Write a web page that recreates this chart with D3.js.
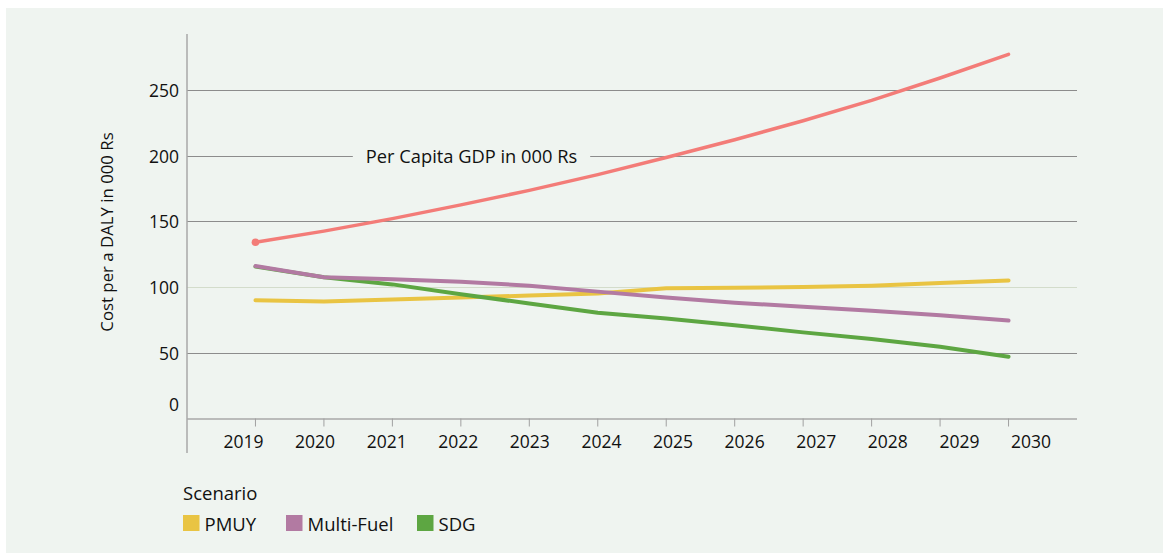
<!DOCTYPE html>
<html>
<head>
<meta charset="utf-8">
<script src="https://cdn.jsdelivr.net/npm/d3@7"></script>
<style>
  html, body { margin: 0; padding: 0; background: #ffffff; }
  svg { display: block; }
  text { font-family: "Open Sans", "Noto Sans", sans-serif; fill: #111; }
</style>
</head>
<body>
<svg id="chart" width="1163" height="553"></svg>
<script>
// Years on the horizontal axis
const years = [2019, 2020, 2021, 2022, 2023, 2024, 2025, 2026, 2027, 2028, 2029, 2030];

// Cost per DALY (000 Rs) by scenario
const pmuy      = [90, 89, 90.5, 92, 93.5, 95, 99, 99.5, 100, 101, 103, 105];
const multiFuel = [116, 107.5, 106, 104, 101, 96.5, 92, 88, 85, 82, 78.5, 74.5];
const sdg       = [115.5, 107.5, 102, 94.5, 87.5, 80.5, 76, 71, 65.5, 60.5, 54.5, 47];

// Per capita GDP (000 Rs)
const gdp = [134, 142.5, 152, 162.5, 173.5, 185.5, 198.5, 212, 226.5, 242, 259, 277];

const yTicks = [0, 50, 100, 150, 200, 250];
const seriesNames = ["PMUY", "Multi-Fuel", "SDG"];
const seriesColors = ["#e9c443", "#b27aa2", "#5da642"];
const gdpColor = "#f37c78";
const gdpLabel = "Per Capita GDP in 000 Rs";
const yTitle = "Cost per a DALY in 000 Rs";
const legendTitle = "Scenario";

const svg = d3.select("#chart");
const W = 1163, H = 553;
const bg = "#eff4f0";

// panel background
svg.append("rect").attr("x", 6).attr("y", 8).attr("width", W - 6).attr("height", H - 8).attr("fill", bg);

const left = 187, right = 1077, zeroY = 418.5, topY = 34;
const x = d3.scaleLinear().domain([2018, 2031]).range([left, right]);
// year labels run on their own, slightly wider spacing
const xLabel = d3.scaleLinear().domain([2019, 2030]).range([243.5, 1031]);
const y = d3.scaleLinear().domain([0, 250]).range([zeroY, 89.8]);

// horizontal gridlines
const grid = svg.append("g");
grid.selectAll("line").data(yTicks.filter(t => t > 0)).join("line")
  .attr("x1", left).attr("x2", right)
  .attr("y1", d => Math.round(y(d)) + 0.5).attr("y2", d => Math.round(y(d)) + 0.5)
  .attr("stroke", d => d === 100 ? "#d3dccb" : "#8c8c8c")
  .attr("stroke-width", 1);

// baseline and vertical axis
svg.append("line").attr("x1", left).attr("x2", right).attr("y1", zeroY + 0.5).attr("y2", zeroY + 0.5)
  .attr("stroke", "#a9a9a9").attr("stroke-width", 1.5);
svg.append("line").attr("x1", left).attr("x2", left).attr("y1", topY).attr("y2", 453)
  .attr("stroke", "#a9a9a9").attr("stroke-width", 1.5);

// year ticks
svg.append("g").selectAll("line").data(years).join("line")
  .attr("x1", d => x(d)).attr("x2", d => x(d))
  .attr("y1", zeroY).attr("y2", zeroY + 8)
  .attr("stroke", "#a0a0a0").attr("stroke-width", 1);

svg.append("g").selectAll("text").data(years).join("text")
  .attr("x", d => xLabel(d)).attr("y", 441)
  .attr("text-anchor", "middle").attr("dominant-baseline", "central")
  .style("font-size", "17.5px")
  .text(d => d);

// value labels; the zero label sits just above the baseline
svg.append("g").selectAll("text").data(yTicks).join("text")
  .attr("x", 179).attr("y", d => d === 0 ? y(d) - 14.5 : y(d))
  .attr("text-anchor", "end").attr("dominant-baseline", "central")
  .style("font-size", "17.5px")
  .text(d => d);

// axis title
svg.append("text")
  .attr("transform", `translate(106,${232}) rotate(-90)`)
  .attr("text-anchor", "middle").attr("dominant-baseline", "central")
  .style("font-size", "16.8px")
  .text(yTitle);

// GDP label breaking the 200 gridline
const lbl = svg.append("g");
const lblRect = lbl.append("rect").attr("fill", bg);
const lblText = lbl.append("text")
  .attr("x", 471.5).attr("y", y(200))
  .attr("text-anchor", "middle").attr("dominant-baseline", "central")
  .style("font-size", "18.3px")
  .text(gdpLabel);
const bb = lblText.node().getBBox();
lblRect.attr("x", bb.x - 13).attr("y", bb.y).attr("width", bb.width + 26).attr("height", bb.height);

const line = d3.line().x((d, i) => x(years[i])).y(d => y(d));

// scenario lines; Multi-Fuel is drawn last so it sits on top of SDG at the start
[pmuy, sdg, multiFuel].forEach(vals => {
  const k = vals === pmuy ? 0 : vals === multiFuel ? 1 : 2;
  svg.append("path").datum(vals)
    .attr("d", line)
    .attr("fill", "none")
    .attr("stroke", seriesColors[k])
    .attr("stroke-width", 4)
    .attr("stroke-linejoin", "round")
    .attr("stroke-linecap", "round");
});

svg.append("path").datum(gdp)
  .attr("d", line)
  .attr("fill", "none")
  .attr("stroke", gdpColor)
  .attr("stroke-width", 3.5)
  .attr("stroke-linejoin", "round")
  .attr("stroke-linecap", "round");
svg.append("circle").attr("cx", x(years[0])).attr("cy", y(gdp[0])).attr("r", 3.8).attr("fill", gdpColor);

// legend
svg.append("text").attr("x", 183).attr("y", 492)
  .attr("dominant-baseline", "central").style("font-size", "18.5px").text(legendTitle);

const legendX = [183, 286, 417];
const leg = svg.append("g").selectAll("g").data(seriesNames).join("g")
  .attr("transform", (d, i) => `translate(${legendX[i]},515)`);
leg.append("rect").attr("width", 16.5).attr("height", 16).attr("fill", (d, i) => seriesColors[i]);
leg.append("text").attr("x", 21.5).attr("y", 8.5)
  .attr("dominant-baseline", "central").style("font-size", "18.5px")
  .text(d => d);
</script>
</body>
</html>
